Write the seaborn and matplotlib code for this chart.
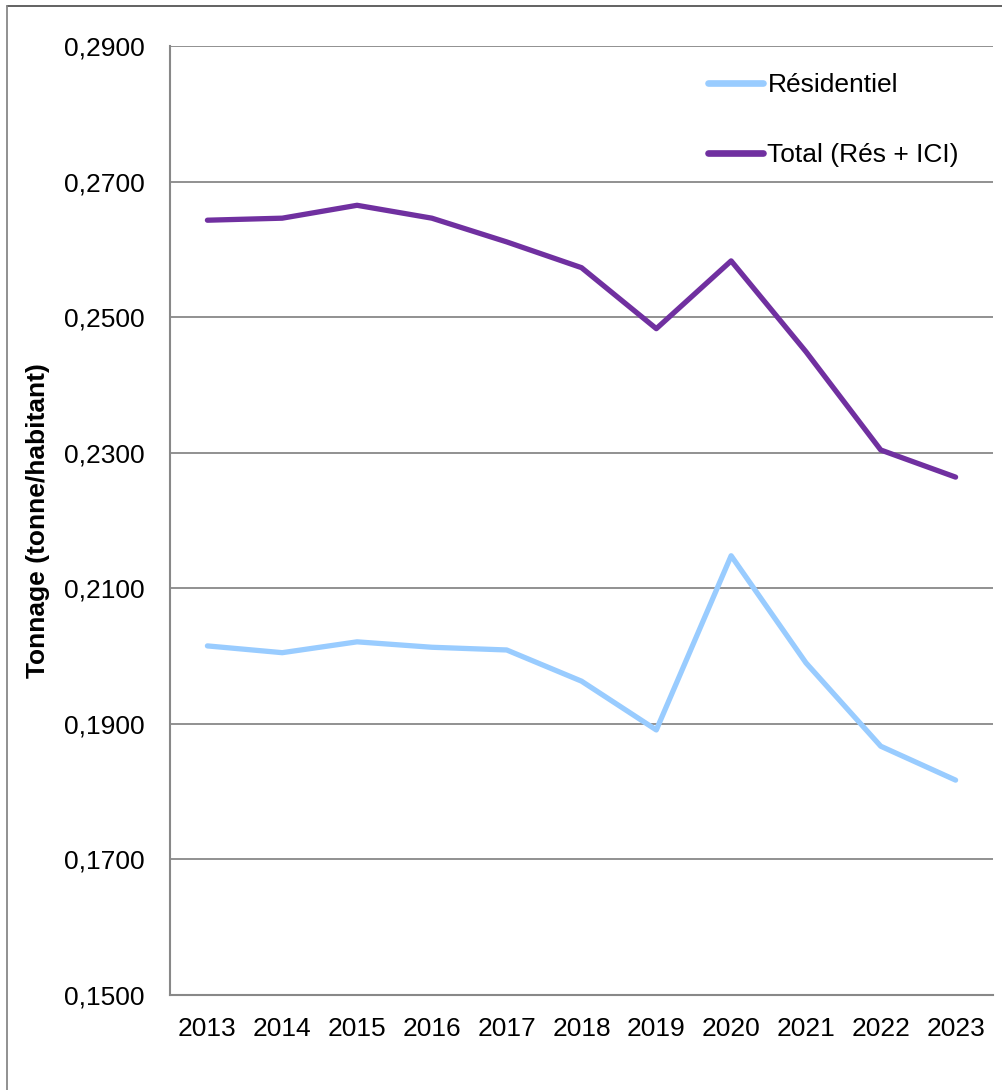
import matplotlib
matplotlib.use("Agg")
import matplotlib.pyplot as plt
import seaborn as sns
import pandas as pd
from matplotlib.lines import Line2D

years = ["2013", "2014", "2015", "2016", "2017", "2018", "2019", "2020", "2021", "2022", "2023"]
residentiel = [0.2015, 0.2005, 0.2021, 0.2013, 0.2009, 0.1963, 0.1891, 0.2148, 0.1990, 0.1867, 0.1817]
total = [0.2643, 0.2646, 0.2665, 0.2646, 0.2611, 0.2573, 0.2483, 0.2583, 0.2449, 0.2304, 0.2264]
series_names = ["Résidentiel", "Total (Rés + ICI)"]
colors = ["#99CCFF", "#7030A0"]
yticks = [0.15, 0.17, 0.19, 0.21, 0.23, 0.25, 0.27, 0.29]

sns.set_theme(style="white")
plt.rcParams['font.family'] = ['Liberation Sans', 'DejaVu Sans']
plt.rcParams['text.color'] = 'black'
plt.rcParams['axes.labelcolor'] = 'black'
plt.rcParams['xtick.color'] = 'black'
plt.rcParams['ytick.color'] = 'black'

idx = list(range(len(years)))
df = pd.DataFrame({
    "x": idx * 2,
    "value": residentiel + total,
    "serie": [series_names[0]] * len(years) + [series_names[1]] * len(years),
})

fig = plt.figure(figsize=(10.03, 10.90), dpi=100)
ax = fig.add_axes([170/1003, 1 - 995/1090, (993-170)/1003, (995-46)/1090])

sns.lineplot(data=df, x="x", y="value", hue="serie", palette=colors,
             hue_order=series_names, linewidth=3.8, ax=ax, legend=False)

ax.set_xlim(-0.5, len(years) - 0.5)
ax.set_ylim(0.15, 0.29)
ax.set_yticks(yticks)
ax.set_yticklabels([f"{v:.4f}".replace(".", ",") for v in yticks], fontsize=19)
ax.set_xticks(idx)
ax.set_xticklabels(years, fontsize=19)
ax.set_xticks([i - 0.5 for i in range(len(years) + 1)], minor=True)
ax.tick_params(axis="x", which="major", length=0, pad=16)
ax.tick_params(axis="x", which="minor", length=7, width=1.5, color="#888888", direction="out")
ax.tick_params(axis="y", which="major", length=0, pad=18)
ax.set_xlabel("")
ax.set_ylabel("Tonnage (tonne/habitant)", fontsize=19, fontweight="bold", labelpad=10)

ax.grid(axis="y", color="#888888", linewidth=1.3)
ax.grid(axis="x", visible=False)
for s in ["top", "right"]:
    ax.spines[s].set_visible(False)
for s in ["left", "bottom"]:
    ax.spines[s].set_color("#888888")
    ax.spines[s].set_linewidth(1.5)

handles = [Line2D([0], [0], color=c, lw=4.8, solid_capstyle="round") for c in colors]
fig.legend(handles, series_names, loc="upper left",
           bbox_to_anchor=(708/1003, 1 - 73/1090), frameon=False, fontsize=19,
           handlelength=2.1, handletextpad=0.15, labelspacing=1.75,
           borderpad=0, borderaxespad=0)

# figure border (top and left visible)
fig.add_artist(Line2D([7/1003, 1.0], [1 - 6/1090, 1 - 6/1090], transform=fig.transFigure, color="#555555", lw=1.3))
fig.add_artist(Line2D([7/1003, 7/1003], [0, 1 - 6/1090], transform=fig.transFigure, color="#888888", lw=1.3))

fig.savefig("out.png", dpi=100)
